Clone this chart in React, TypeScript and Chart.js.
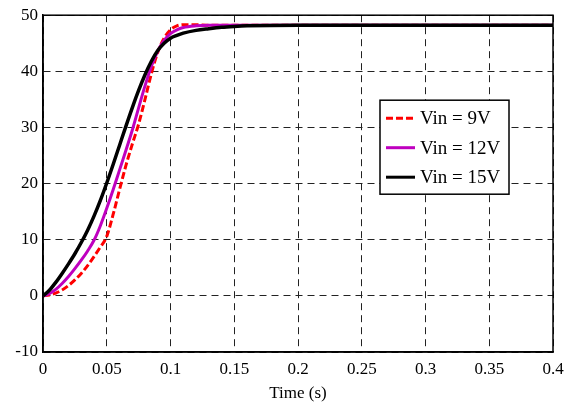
import React, { useEffect, useRef } from "react";
import { Chart, registerables } from "chart.js";

Chart.register(...registerables);

const time = [0, 0.005, 0.01, 0.015, 0.02, 0.025, 0.03, 0.035, 0.04, 0.045, 0.05, 0.055, 0.06, 0.065, 0.07, 0.075, 0.08, 0.085, 0.09, 0.095, 0.1, 0.105, 0.11, 0.12, 0.13, 0.14, 0.15, 0.16, 0.2, 0.25, 0.3, 0.35, 0.4];
const vin9 = [0, 0.15, 0.5, 1.05, 1.85, 2.85, 4.0, 5.4, 7.0, 8.7, 10.6, 14.5, 18.9, 23.2, 27.0, 30.6, 35.0, 39.6, 43.4, 45.9, 47.4, 48.1, 48.3, 48.3, 48.2, 48.2, 48.2, 48.2, 48.2, 48.2, 48.2, 48.2, 48.2];
const vin12 = [0, 0.4, 1.15, 2.2, 3.45, 4.85, 6.35, 8.0, 9.9, 12.5, 15.6, 18.9, 22.4, 25.9, 29.5, 33.5, 37.4, 40.9, 43.6, 45.5, 46.7, 47.4, 47.8, 48.1, 48.2, 48.2, 48.2, 48.2, 48.2, 48.2, 48.2, 48.2, 48.2];
const vin15 = [0, 1.0, 2.4, 4.0, 5.7, 7.5, 9.5, 11.7, 14.2, 17.0, 20.1, 23.4, 26.8, 30.2, 33.5, 36.6, 39.4, 41.8, 43.7, 45.0, 45.9, 46.4, 46.8, 47.3, 47.6, 47.85, 48.0, 48.1, 48.2, 48.2, 48.2, 48.2, 48.2];
const seriesLabels = ["Vin = 9V", "Vin = 12V", "Vin = 15V"];
const xTicks = [0, 0.05, 0.1, 0.15, 0.2, 0.25, 0.3, 0.35, 0.4];
const yTicks = [-10, 0, 10, 20, 30, 40, 50];
const xTitle = "Time (s)";

const FONT = "'Liberation Serif', 'Times New Roman', serif";

export default function App() {
  const ref = useRef<HTMLCanvasElement>(null);
  useEffect(() => {
    document.body.style.margin = "0";
    const canvas = ref.current!;

    const framePlugin = {
      id: "frame",
      afterDatasetsDraw(chart: any) {
        const { ctx, chartArea: a } = chart;
        ctx.save();
        ctx.strokeStyle = "#000";
        ctx.lineWidth = 1.5;
        ctx.setLineDash([]);
        ctx.strokeRect(a.left, a.top, a.right - a.left, a.bottom - a.top);
        ctx.restore();
      },
    };

    const legendPlugin = {
      id: "boxLegend",
      afterDraw(chart: any) {
        const { ctx, chartArea: a } = chart;
        const bx = a.right - 173;
        const by = a.top + 85;
        const bw = 129;
        const bh = 94;
        ctx.save();
        ctx.fillStyle = "#fff";
        ctx.fillRect(bx, by, bw, bh);
        ctx.strokeStyle = "#000";
        ctx.lineWidth = 1.5;
        ctx.setLineDash([]);
        ctx.strokeRect(bx, by, bw, bh);
        ctx.font = `19px ${FONT}`;
        ctx.textBaseline = "middle";
        ctx.textAlign = "left";
        chart.data.datasets.forEach((ds: any, i: number) => {
          const y = by + 18 + i * 29.5;
          ctx.beginPath();
          ctx.strokeStyle = ds.borderColor;
          ctx.lineWidth = 3;
          ctx.setLineDash(ds.borderDash || []);
          ctx.moveTo(bx + 6, y);
          ctx.lineTo(bx + 35, y);
          ctx.stroke();
          ctx.setLineDash([]);
          ctx.fillStyle = "#000";
          ctx.fillText(ds.label, bx + 40, y + 1);
        });
        ctx.restore();
      },
    };

    const mk = (vals: number[]) => time.map((t, i) => ({ x: t, y: vals[i] }));

    const chart = new Chart(canvas, {
      type: "line",
      data: {
        datasets: [
          {
            label: seriesLabels[0],
            data: mk(vin9),
            borderColor: "#ff0000",
            borderWidth: 3,
            borderDash: [7, 3],
            pointRadius: 0,
            cubicInterpolationMode: "monotone",
            order: 2,
          },
          {
            label: seriesLabels[1],
            data: mk(vin12),
            borderColor: "#bf00bf",
            borderWidth: 3,
            pointRadius: 0,
            cubicInterpolationMode: "monotone",
            order: 1,
          },
          {
            label: seriesLabels[2],
            data: mk(vin15),
            borderColor: "#000000",
            borderWidth: 3.5,
            pointRadius: 0,
            cubicInterpolationMode: "monotone",
            order: 0,
          },
        ],
      },
      options: {
        animation: false,
        responsive: false,
        maintainAspectRatio: false,
        layout: { padding: { top: 15, right: 22, left: 0, bottom: 0 } },
        plugins: { legend: { display: false }, tooltip: { enabled: false } },
        scales: {
          x: {
            type: "linear",
            min: 0,
            max: 0.4,
            afterBuildTicks: (s: any) => {
              s.ticks = xTicks.map((v) => ({ value: v }));
            },
            afterFit: (s: any) => {
              s.height = 54;
            },
            ticks: {
              color: "#000",
              font: { family: FONT, size: 17 },
              padding: 7,
              maxRotation: 0,
              autoSkip: false,
              callback: (v: any) => String(v),
            },
            grid: { color: "#222", lineWidth: 1, drawTicks: false },
            border: { display: true, color: "#000", width: 1.5, dash: [7, 5] },
            title: {
              display: true,
              text: xTitle,
              color: "#000",
              font: { family: FONT, size: 17 },
              padding: { top: 0, bottom: 2 },
            },
          },
          y: {
            type: "linear",
            min: -10,
            max: 50,
            afterBuildTicks: (s: any) => {
              s.ticks = yTicks.map((v) => ({ value: v }));
            },
            afterFit: (s: any) => {
              s.width = 43;
            },
            ticks: {
              color: "#000",
              font: { family: FONT, size: 17 },
              padding: 5,
              autoSkip: false,
              callback: (v: any) => String(v),
            },
            grid: { color: "#222", lineWidth: 1, drawTicks: false },
            border: { display: true, color: "#000", width: 1.5, dash: [7, 5] },
          },
        },
      },
      plugins: [framePlugin, legendPlugin],
    } as any);
    return () => chart.destroy();
  }, []);
  return <canvas ref={ref} width={575} height={406} style={{ display: "block" }} />;
}
